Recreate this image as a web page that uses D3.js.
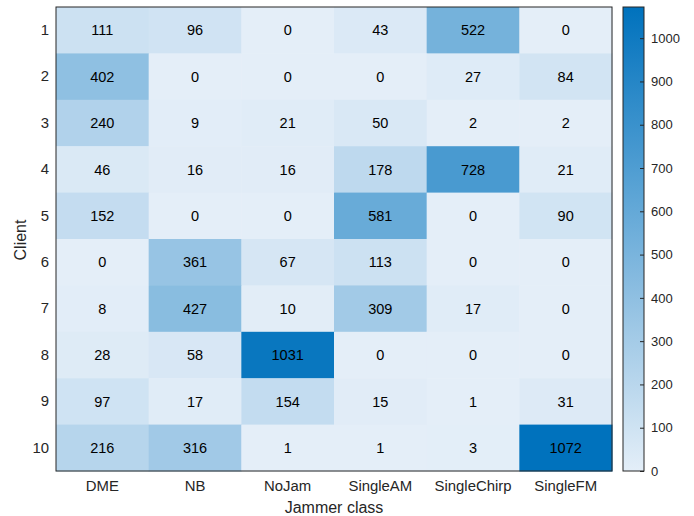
<!DOCTYPE html>
<html>
<head>
<meta charset="utf-8">
<script src="https://cdn.jsdelivr.net/npm/d3@7"></script>
<style>
  html, body { margin: 0; padding: 0; background: #fff; }
  text { font-family: "Liberation Sans", Arial, Helvetica, sans-serif; }
</style>
</head>
<body>
<svg id="chart" width="694" height="516"></svg>
<script>
// Jammer classes along the x axis, clients down the y axis
const jammerClasses = ["DME", "NB", "NoJam", "SingleAM", "SingleChirp", "SingleFM"];
const clients = ["1", "2", "3", "4", "5", "6", "7", "8", "9", "10"];

// Counts per client (rows) and jammer class (columns)
const counts = [
  [111, 96, 0, 43, 522, 0],
  [402, 0, 0, 0, 27, 84],
  [240, 9, 21, 50, 2, 2],
  [46, 16, 16, 178, 728, 21],
  [152, 0, 0, 581, 0, 90],
  [0, 361, 67, 113, 0, 0],
  [8, 427, 10, 309, 17, 0],
  [28, 58, 1031, 0, 0, 0],
  [97, 17, 154, 15, 1, 31],
  [216, 316, 1, 1, 3, 1072]
];

const colorbarTicks = [0, 100, 200, 300, 400, 500, 600, 700, 800, 900, 1000];

const FONT = "Liberation Sans, Arial, sans-serif";
const svg = d3.select("#chart");
const margin = { left: 56, top: 7 };
const plotW = 612 - margin.left;
const plotH = 471 - margin.top;

const maxVal = d3.max(counts.flat());

const x = d3.scaleBand().domain(jammerClasses).range([margin.left, margin.left + plotW]);
const y = d3.scaleBand().domain(clients).range([margin.top, margin.top + plotH]);
const color = d3.scaleLinear().domain([0, maxVal]).range(["#e4eef8", "#0072bd"]).interpolate(d3.interpolateRgb);

const cells = [];
counts.forEach((row, i) => row.forEach((v, j) => cells.push({ client: clients[i], cls: jammerClasses[j], v })));

const g = svg.append("g");
g.selectAll("rect.cell").data(cells).join("rect")
  .attr("class", "cell")
  .attr("x", d => x(d.cls))
  .attr("y", d => y(d.client))
  .attr("width", x.bandwidth() + 0.5)
  .attr("height", y.bandwidth() + 0.5)
  .attr("fill", d => color(d.v));

g.selectAll("text.val").data(cells).join("text")
  .attr("class", "val")
  .attr("x", d => x(d.cls) + x.bandwidth() / 2)
  .attr("y", d => y(d.client) + y.bandwidth() / 2)
  .attr("dy", "0.36em")
  .attr("text-anchor", "middle")
  .attr("font-size", 14.5)
  .attr("fill", "#000")
  .text(d => d.v);

// Frame around the heatmap
svg.append("rect")
  .attr("x", margin.left).attr("y", margin.top)
  .attr("width", plotW).attr("height", plotH)
  .attr("fill", "none").attr("stroke", "#262626").attr("stroke-width", 1);

// Axes
const xAxis = svg.append("g")
  .attr("transform", `translate(0,${margin.top + plotH})`)
  .call(d3.axisBottom(x).tickSize(0).tickPadding(9));
xAxis.select(".domain").remove();
xAxis.selectAll("text").attr("font-size", 14.9).attr("fill", "#262626").attr("font-family", FONT);

const yAxis = svg.append("g")
  .attr("transform", `translate(${margin.left},0)`)
  .call(d3.axisLeft(y).tickSize(0).tickPadding(7));
yAxis.select(".domain").remove();
yAxis.selectAll("text").attr("font-size", 14.9).attr("fill", "#262626").attr("font-family", FONT);

svg.append("text")
  .attr("x", margin.left + plotW / 2).attr("y", 513)
  .attr("text-anchor", "middle").attr("font-size", 16).attr("fill", "#262626")
  .text("Jammer class");

svg.append("text")
  .attr("transform", `translate(26,${margin.top + plotH / 2 + 1}) rotate(-90)`)
  .attr("text-anchor", "middle").attr("font-size", 16).attr("fill", "#262626")
  .text("Client");

// Colorbar
const cbX = 623, cbW = 21;
const cbScale = d3.scaleLinear().domain([0, maxVal]).range([margin.top + plotH, margin.top]);
const defs = svg.append("defs");
const grad = defs.append("linearGradient").attr("id", "cbgrad")
  .attr("x1", 0).attr("y1", 1).attr("x2", 0).attr("y2", 0);
d3.range(0, 1.0001, 0.1).forEach(t => {
  grad.append("stop").attr("offset", t).attr("stop-color", color(t * maxVal));
});
svg.append("rect")
  .attr("x", cbX).attr("y", margin.top).attr("width", cbW).attr("height", plotH)
  .attr("fill", "url(#cbgrad)").attr("stroke", "#262626").attr("stroke-width", 1);

const cbAxis = svg.append("g")
  .attr("transform", `translate(${cbX + cbW},0)`)
  .call(d3.axisRight(cbScale).tickValues(colorbarTicks).tickFormat(d3.format("d")).tickSize(-4).tickPadding(7));
cbAxis.select(".domain").remove();
cbAxis.selectAll("line").attr("stroke", "#262626");
cbAxis.selectAll("text").attr("font-size", 13).attr("fill", "#262626").attr("font-family", FONT);
</script>
</body>
</html>
